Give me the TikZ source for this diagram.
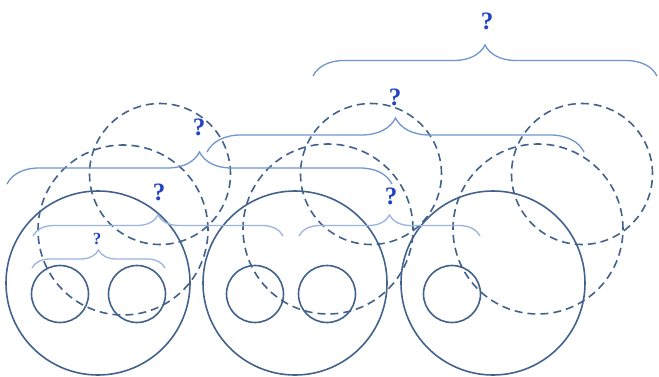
\documentclass[tikz,border=0pt]{standalone}
\usepackage{fontspec}
\setmainfont{Liberation Serif}
\usetikzlibrary{decorations.pathreplacing}

\definecolor{ringcol}{HTML}{42628C}
\definecolor{bracecol}{HTML}{6F95CC}
\definecolor{lowbracecol}{HTML}{9AB4DE}
\definecolor{qcol}{HTML}{2142C4}

\tikzset{
  ring/.style={draw=ringcol, line width=1.6pt},
  dashring/.style={draw=ringcol, line width=1.6pt, dash pattern=on 8pt off 5pt},
  qbrace/.style={draw=bracecol, line width=1.3pt, decorate, decoration={brace, amplitude=#1}},
  lowbrace/.style={draw=lowbracecol, line width=1.3pt, decorate, decoration={brace, amplitude=#1}},
  qmark/.style={text=qcol, font=\fontsize{25}{25}\selectfont\bfseries, inner sep=0pt},
  smallq/.style={text=qcol, font=\fontsize{17}{17}\selectfont\bfseries, inner sep=0pt}
}

\begin{document}
\begin{tikzpicture}[x=1pt,y=1pt]
\useasboundingbox (0,0) rectangle (659,376);

% Outer rings
\draw[ring] (98,93) circle (92pt);
\draw[ring] (295,93) circle (92pt);
\draw[ring] (493,93) circle (92pt);

% Inner rings
\draw[ring] (60,82) circle (28.5pt);
\draw[ring] (137,82) circle (28.5pt);
\draw[ring] (255,82) circle (28.5pt);
\draw[ring] (327,82) circle (28.5pt);
\draw[ring] (452,82) circle (28.5pt);

% Dashed rings, lower row
\draw[dashring] (123,146) circle (85pt);
\draw[dashring] (328,147) circle (85pt);
\draw[dashring] (538,147) circle (85pt);

% Dashed rings, upper row
\draw[dashring] (160,202) circle (70.5pt);
\draw[dashring] (371,202) circle (70.5pt);
\draw[dashring] (582,202) circle (70.5pt);

% Brace ends
\coordinate (b1l) at (32,108);  \coordinate (b1r) at (165,108);
\coordinate (b2l) at (33,140);  \coordinate (b2r) at (283,140);
\coordinate (b3l) at (299,140); \coordinate (b3r) at (480,140);
\coordinate (b4l) at (7,192);   \coordinate (b4r) at (392,192);
\coordinate (b5l) at (207,224); \coordinate (b5r) at (584,224);
\coordinate (b6l) at (313,300); \coordinate (b6r) at (657,300);

% Braces
\draw[lowbrace=18pt] (b1l) -- (b1r);
\draw[lowbrace=21pt] (b2l) -- (b2r);
\draw[lowbrace=21pt] (b3l) -- (b3r);
\draw[qbrace=32pt] (b4l) -- (b4r);
\draw[qbrace=34pt] (b5l) -- (b5r);
\draw[qbrace=31pt] (b6l) -- (b6r);

% Question marks
\node[smallq] (q1) at (97,137) {?};
\node[qmark] (q2) at (159,184) {?};
\node[qmark] (q3) at (391,180) {?};
\node[qmark] (q4) at (199,249) {?};
\node[qmark] (q5) at (395,279) {?};
\node[qmark] (q6) at (487,355) {?};

\end{tikzpicture}
\end{document}
